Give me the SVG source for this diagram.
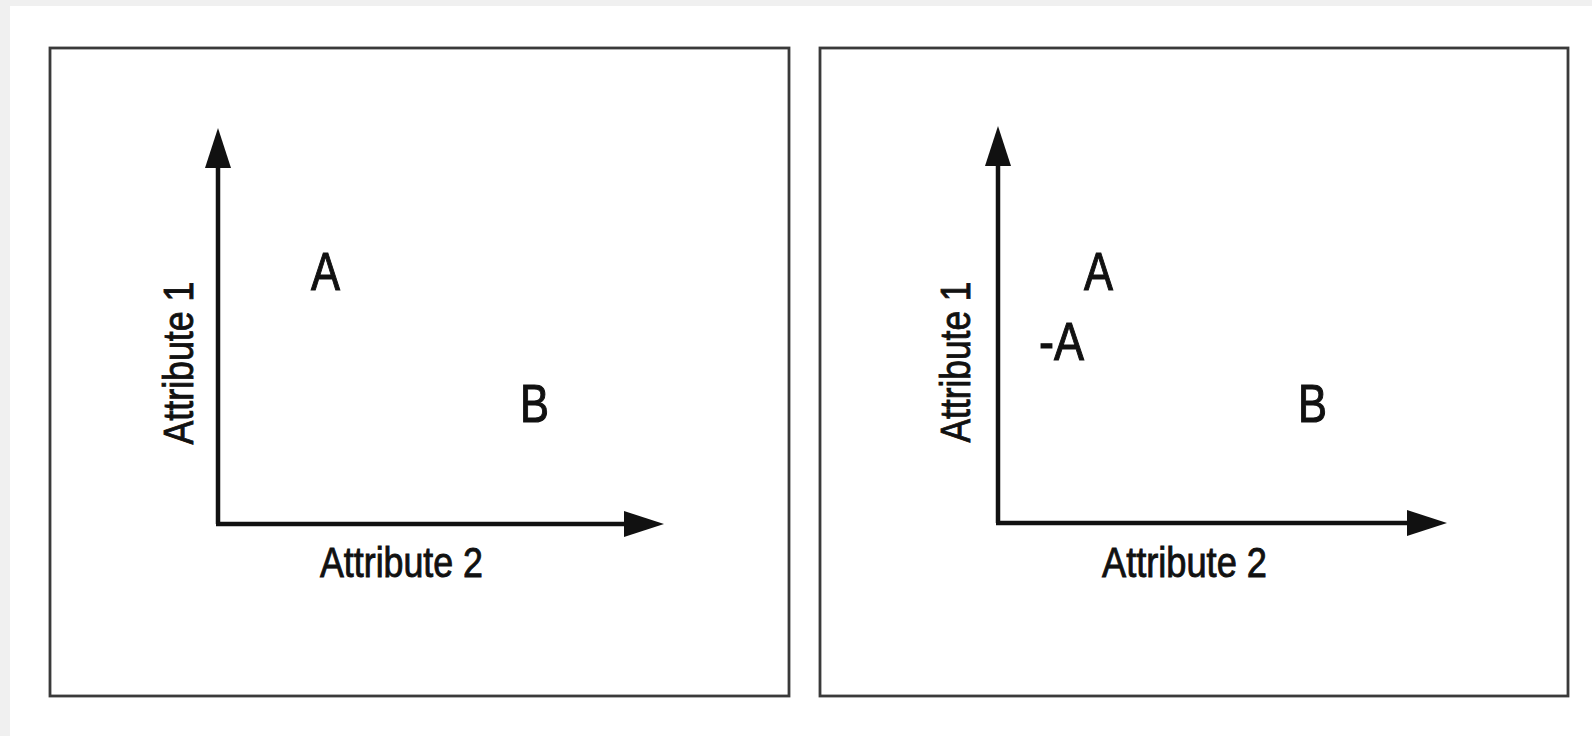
<svg xmlns="http://www.w3.org/2000/svg" width="1592" height="736" viewBox="0 0 1592 736">
<style>
.frame{fill:#fff;stroke:#3a3a3a;stroke-width:2.8}
.axis{stroke:#111;stroke-width:4.5;fill:none}
.lbl{font-family:"Liberation Sans",Arial,sans-serif;fill:#111;stroke:#111;stroke-width:0.9;font-size:42px}
.pt{font-family:"Liberation Sans",Arial,sans-serif;fill:#111;stroke:#111;stroke-width:1.1;font-size:54px}
</style>
<defs>
<marker id="ah" viewBox="0 0 40 26" refX="1" refY="13" markerWidth="40" markerHeight="26" markerUnits="userSpaceOnUse" orient="auto">
<path d="M0,0 L40,13 L0,26 Z" fill="#111"/>
</marker>
</defs>
<rect x="0" y="0" width="1592" height="736" fill="#f0f0f0"/>
<rect x="10" y="6" width="1582" height="730" fill="#fff"/>
<g id="panel-left">
<rect class="frame" x="50" y="48" width="739" height="648"/>
<text class="lbl" transform="translate(193,363) rotate(-90)" text-anchor="middle" textLength="163" lengthAdjust="spacingAndGlyphs">Attribute 1</text>
<text class="lbl" x="320" y="577" textLength="163" lengthAdjust="spacingAndGlyphs">Attribute 2</text>
<text class="pt" x="311" y="290" textLength="29" lengthAdjust="spacingAndGlyphs">A</text>
<text class="pt" x="520" y="422" textLength="29" lengthAdjust="spacingAndGlyphs">B</text>
</g>
<g id="panel-right">
<rect class="frame" x="820" y="48" width="748" height="648"/>
<text class="lbl" transform="translate(970,362) rotate(-90)" text-anchor="middle" textLength="161" lengthAdjust="spacingAndGlyphs">Attribute 1</text>
<text class="lbl" x="1102" y="577" textLength="165" lengthAdjust="spacingAndGlyphs">Attribute 2</text>
<text class="pt" x="1084" y="290" textLength="29" lengthAdjust="spacingAndGlyphs">A</text>
<text class="pt" x="1039" y="360" textLength="45" lengthAdjust="spacingAndGlyphs">-A</text>
<text class="pt" x="1298" y="422" textLength="29" lengthAdjust="spacingAndGlyphs">B</text>
</g>
<g id="connectors">
<path class="axis" d="M218,524 L218,167" marker-end="url(#ah)"/>
<path class="axis" d="M216,524 L625,524" marker-end="url(#ah)"/>
<path class="axis" d="M998,523 L998,165" marker-end="url(#ah)"/>
<path class="axis" d="M996,523 L1408,523" marker-end="url(#ah)"/>
</g>
</svg>
